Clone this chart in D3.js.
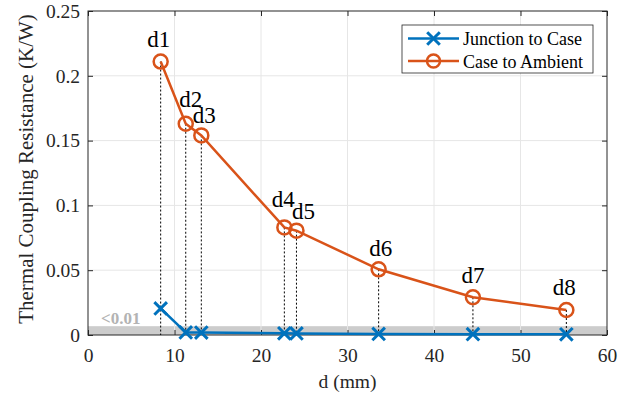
<!DOCTYPE html>
<html>
<head>
<meta charset="utf-8">
<script src="https://cdn.jsdelivr.net/npm/d3@7"></script>
<style>
  body { margin: 0; background: #fff; }
  svg { font-family: "Liberation Serif", "Times New Roman", serif; }
</style>
</head>
<body>
<div id="chart"></div>
<script>
// values
const labels = ['d1', 'd2', 'd3', 'd4', 'd5', 'd6', 'd7', 'd8'];
const dist = [8.4, 11.3, 13.1, 22.7, 24.1, 33.6, 44.5, 55.3];
const junctionToCase = [0.0205, 0.0020, 0.0019, 0.0013, 0.0012, 0.0008, 0.0006, 0.0005];
const caseToAmbient = [0.211, 0.163, 0.154, 0.083, 0.0805, 0.0507, 0.0291, 0.0193];
const xTicks = [0, 10, 20, 30, 40, 50, 60];
const yTicks = [0, 0.05, 0.1, 0.15, 0.2, 0.25];
const bandLimit = 0.0068;

// label nudges in px (layout only)
const labelDx = [-2, 5, 3, -1, 7, 2, 0, -2];
const labelDy = [-15, -17, -12, -20, -12, -13, -14, -15];

const width = 629, height = 398;
const margin = { top: 11, right: 22, bottom: 63, left: 88 };
const w = width - margin.left - margin.right, h = height - margin.top - margin.bottom;
const blue = '#0072BD', orange = '#D95319';

const svg = d3.select('#chart').append('svg')
  .attr('width', width).attr('height', height);
const g = svg.append('g').attr('transform', `translate(${margin.left},${margin.top})`);

const x = d3.scaleLinear().domain([0, 60]).range([0, w]);
const y = d3.scaleLinear().domain([0, 0.25]).range([h, 0]);

// grey "< 0.01" band
g.append('rect')
  .attr('x', 0).attr('y', y(bandLimit))
  .attr('width', w).attr('height', y(0) - y(bandLimit))
  .attr('fill', '#cccccc');

// grid
g.append('g').selectAll('line').data(xTicks.slice(1, -1)).join('line')
  .attr('x1', d => x(d)).attr('x2', d => x(d)).attr('y1', 0).attr('y2', h)
  .attr('stroke', '#e6e6e6').attr('stroke-width', 1);
g.append('g').selectAll('line').data(yTicks.slice(1, -1)).join('line')
  .attr('y1', d => y(d)).attr('y2', d => y(d)).attr('x1', 0).attr('x2', w)
  .attr('stroke', '#e6e6e6').attr('stroke-width', 1);

g.append('text')
  .attr('x', 13).attr('y', h - 11)
  .attr('fill', '#b3b3b3').attr('font-size', 17).attr('font-weight', 'bold')
  .text('<0.01');

// axes (inward ticks, boxed)
const fmtY = d => d === 0 ? '0' : String(+d.toFixed(2));
const axisStyle = sel => {
  sel.select('.domain').remove();
  sel.selectAll('.tick line').attr('stroke', '#262626');
  sel.selectAll('.tick text').attr('font-size', 19.5).attr('fill', '#262626')
    .attr('font-family', '"Liberation Serif", serif');
};
g.append('g').attr('transform', `translate(0,${h})`)
  .call(d3.axisBottom(x).tickValues(xTicks).tickSizeInner(-5).tickSizeOuter(0).tickPadding(13))
  .call(axisStyle);
g.append('g')
  .call(d3.axisTop(x).tickValues(xTicks).tickSizeInner(-5).tickSizeOuter(0).tickFormat(''))
  .call(axisStyle);
g.append('g')
  .call(d3.axisLeft(y).tickValues(yTicks).tickSizeInner(-5).tickSizeOuter(0).tickPadding(8).tickFormat(fmtY))
  .call(axisStyle);
g.append('g').attr('transform', `translate(${w},0)`)
  .call(d3.axisRight(y).tickValues(yTicks).tickSizeInner(-5).tickSizeOuter(0).tickFormat(''))
  .call(axisStyle);
g.append('rect').attr('width', w).attr('height', h)
  .attr('fill', 'none').attr('stroke', '#262626').attr('stroke-width', 1);

// dotted drop lines
g.append('g').selectAll('line').data(dist).join('line')
  .attr('x1', d => x(d)).attr('x2', d => x(d))
  .attr('y1', (d, i) => y(caseToAmbient[i])).attr('y2', y(0))
  .attr('stroke', '#000').attr('stroke-width', 1).attr('stroke-dasharray', '2,2');

const pts = arr => dist.map((d, i) => [d, arr[i]]);
const line = d3.line().x(d => x(d[0])).y(d => y(d[1]));

// junction to case
g.append('path').datum(pts(junctionToCase))
  .attr('fill', 'none').attr('stroke', blue).attr('stroke-width', 2.5).attr('d', line);
const cross = 6.3;
g.append('g').selectAll('path').data(pts(junctionToCase)).join('path')
  .attr('d', d => {
    const cx = x(d[0]), cy = y(d[1]);
    return `M${cx - cross},${cy - cross}L${cx + cross},${cy + cross}M${cx - cross},${cy + cross}L${cx + cross},${cy - cross}`;
  })
  .attr('stroke', blue).attr('stroke-width', 3).attr('fill', 'none');

// case to ambient
g.append('path').datum(pts(caseToAmbient))
  .attr('fill', 'none').attr('stroke', orange).attr('stroke-width', 2.5).attr('d', line);
g.append('g').selectAll('circle').data(pts(caseToAmbient)).join('circle')
  .attr('cx', d => x(d[0])).attr('cy', d => y(d[1])).attr('r', 7)
  .attr('fill', 'none').attr('stroke', orange).attr('stroke-width', 2.5);

// point labels
g.append('g').selectAll('text').data(pts(caseToAmbient)).join('text')
  .attr('x', (d, i) => x(d[0]) + labelDx[i]).attr('y', (d, i) => y(d[1]) + labelDy[i])
  .attr('text-anchor', 'middle').attr('font-size', 23).attr('fill', '#000')
  .text((d, i) => labels[i]);

// axis labels
svg.append('text')
  .attr('x', margin.left + w / 2).attr('y', 388)
  .attr('text-anchor', 'middle').attr('font-size', 19.5).attr('fill', '#262626')
  .text('d (mm)');
svg.append('text')
  .attr('transform', `translate(33,${margin.top + h / 2 - 4}) rotate(-90)`)
  .attr('text-anchor', 'middle').attr('font-size', 21).attr('fill', '#262626')
  .text('Thermal Coupling Resistance (K/W)');

// legend
const leg = svg.append('g').attr('transform', 'translate(402,25)');
leg.append('rect').attr('width', 191).attr('height', 48)
  .attr('fill', '#fff').attr('stroke', '#262626').attr('stroke-width', 0.8);
const items = [
  { name: 'Junction to Case', color: blue, marker: 'x' },
  { name: 'Case to Ambient', color: orange, marker: 'o' }
];
items.forEach((it, i) => {
  const yy = 13.5 + i * 22.5;
  leg.append('line').attr('x1', 6).attr('x2', 57).attr('y1', yy).attr('y2', yy)
    .attr('stroke', it.color).attr('stroke-width', 2.5);
  if (it.marker === 'x') {
    leg.append('path')
      .attr('d', `M${31.5 - cross},${yy - cross}L${31.5 + cross},${yy + cross}M${31.5 - cross},${yy + cross}L${31.5 + cross},${yy - cross}`)
      .attr('stroke', it.color).attr('stroke-width', 3);
  } else {
    leg.append('circle').attr('cx', 31.5).attr('cy', yy).attr('r', 6.5)
      .attr('fill', 'none').attr('stroke', it.color).attr('stroke-width', 2.5);
  }
  leg.append('text').attr('x', 61).attr('y', yy + 6.5)
    .attr('font-size', 18).attr('fill', '#000').text(it.name);
});
</script>
</body>
</html>
